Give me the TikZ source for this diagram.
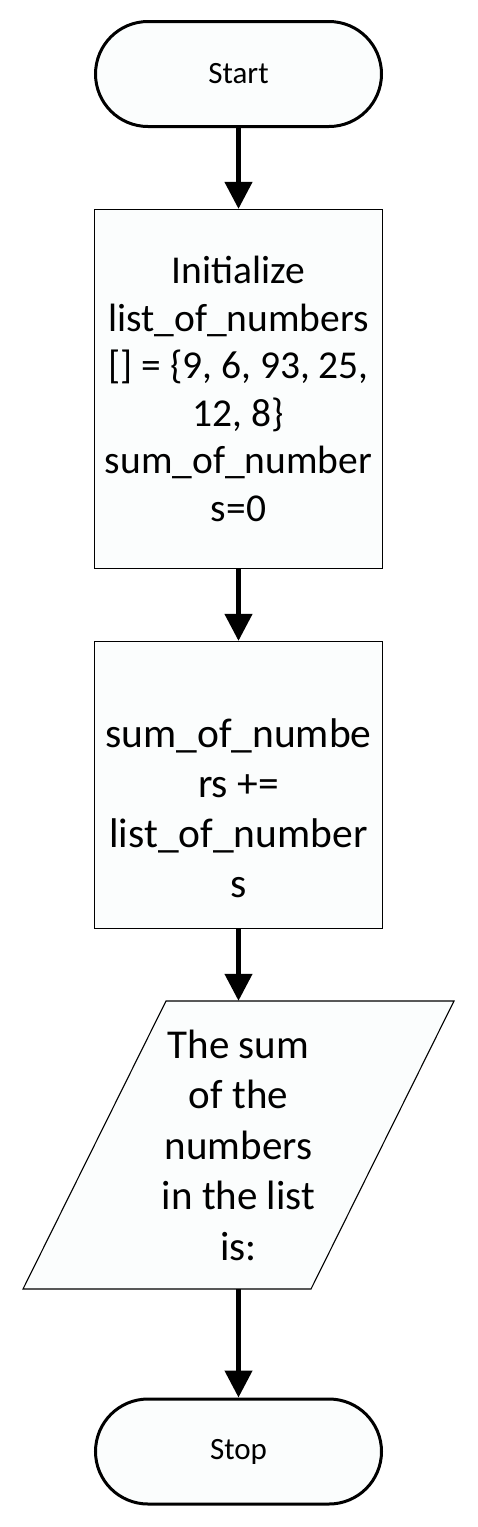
\documentclass[tikz,border=0pt]{standalone}
\usepackage{fontspec}
\setmainfont{Carlito}
\usetikzlibrary{arrows.meta}
\definecolor{boxfill}{RGB}{251,253,253}
\tikzset{
    terminal/.style={draw, line width=3pt, fill=boxfill, rounded corners=52.5pt,
        minimum width=286pt, minimum height=105pt, inner sep=0pt,
        font=\fontsize{31}{37}\selectfont},
    process/.style={draw, line width=1.3pt, fill=boxfill, minimum width=288pt, inner sep=0pt},
    txt/.style={align=center, inner sep=0pt},
    flow/.style={line width=4.5pt, -{Triangle[length=27pt,width=27pt]}}
}
\begin{document}
\begin{tikzpicture}[x=1pt,y=-1pt]
            \useasboundingbox (0,0) rectangle (477,1527);
            % start
            \node[terminal] (start) at (238.5,74) {Start};
            % initialize
            \node[process, minimum height=359pt, txt, font=\fontsize{39.5}{47.5}\selectfont]
                (init) at (238.5,389) {Initialize\\list\_of\_numbers\\{[]} = \{9, 6, 93, 25,\\12, 8\}\\sum\_of\_number\\s=0};
            % sum
            \node[process, minimum height=287pt] (sum) at (238.5,785) {};
            \node[txt, font=\fontsize{41.5}{50}\selectfont] (sumtxt) at (238.5,808)
                {sum\_of\_numbe\\rs +=\\list\_of\_number\\s};
            % output
            \draw[line width=1.1pt, fill=boxfill] (166,1001) -- (454,1001) -- (311,1289) -- (23,1289) -- cycle;
            \node[txt, minimum height=288pt, font=\fontsize{41}{50.5}\selectfont] (out) at (238.5,1145)
                {The sum\\of the\\numbers\\in the list\\is:};
            % stop
            \node[terminal] (stop) at (238.5,1451.5) {Stop};

            % arrows
            \foreach \a/\b in {start/init,init/sum,sum/out,out/stop}{
                \draw[flow] (\a) -- (\b);
            }
        \end{tikzpicture}
\end{document}
